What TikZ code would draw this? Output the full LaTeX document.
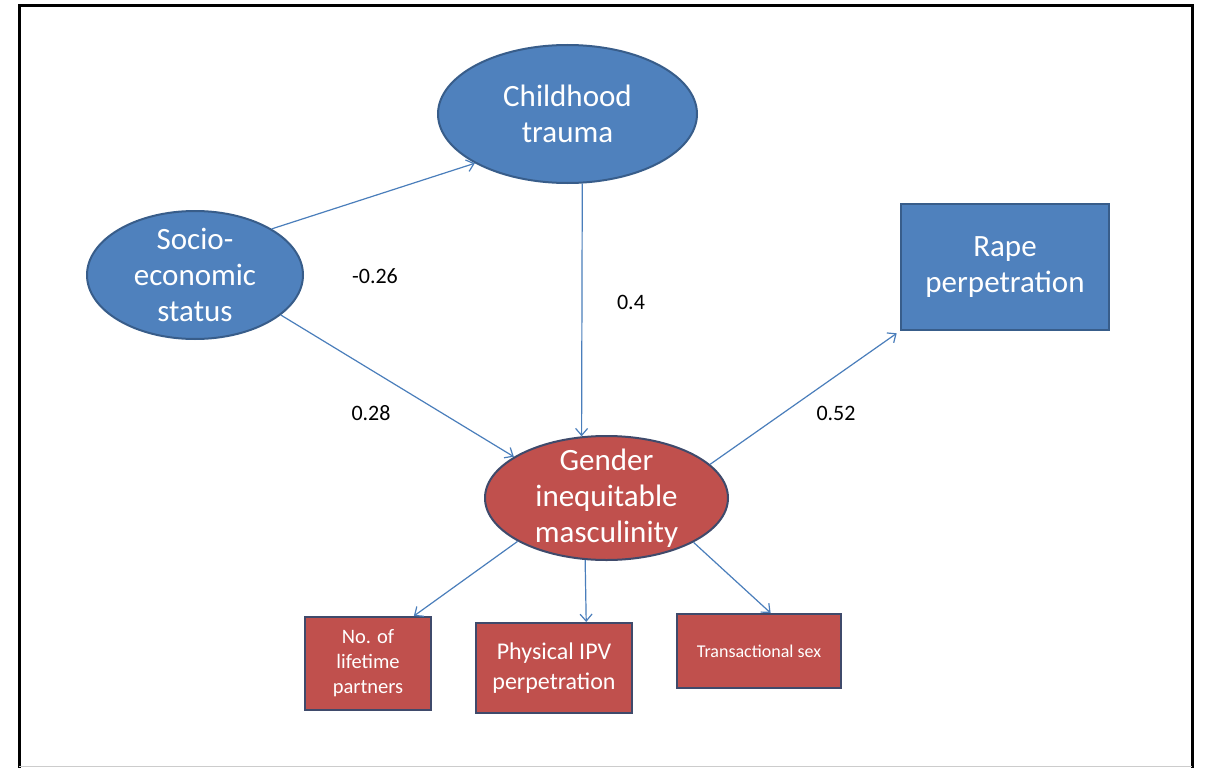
\documentclass[tikz,border=0pt]{standalone}
\usepackage{fontspec}
\setmainfont{Carlito}
\usetikzlibrary{arrows.meta,shapes.geometric}
\definecolor{nodeblue}{HTML}{4F81BD}
\definecolor{blueline}{HTML}{385D8A}
\definecolor{nodered}{HTML}{C0504D}
\definecolor{redline}{HTML}{3F4A6B}
\definecolor{arrowcol}{HTML}{4A7EBB}
\begin{document}
\begin{tikzpicture}[x=1pt,y=-1pt,
  blueell/.style={ellipse, draw=blueline, line width=2pt, fill=nodeblue, inner sep=0pt},
  redell/.style={ellipse, draw=redline, line width=2pt, fill=nodered, inner sep=0pt},
  bluebox/.style={rectangle, draw=blueline, line width=2pt, fill=nodeblue, inner sep=0pt, text=white, align=center, font={\fontsize{31}{36}\selectfont}},
  redbox/.style={rectangle, draw=redline, line width=2pt, fill=nodered, inner sep=0pt, text=white, align=center},
  big/.style={text=white, align=center, font={\fontsize{31}{36}\selectfont}},
  coef/.style={text=black, inner sep=0pt, font={\fontsize{22}{26}\selectfont}},
  link/.style={draw=arrowcol, line width=1.2pt, -{Straight Barb[length=7pt,width=12pt]}}
]
\useasboundingbox (0,0) rectangle (1205,768);
\fill[white] (0,0) rectangle (1205,768);
\draw[line width=3pt] (19,770) -- (19,6) -- (1192,6) -- (1192,770);
\draw[gray!40, line width=1pt] (19,766) -- (1192,766);

\node[blueell, minimum width=259pt, minimum height=138pt, label={[big]center:Childhood\\trauma}] (ct) at (567.5,114) {};
\node[blueell, minimum width=216pt, minimum height=128pt, label={[big]center:Socio-\\economic\\status}] (ses) at (195,275) {};
\node[redell, minimum width=243pt, minimum height=124pt, label={[big]center:Gender\\inequitable\\masculinity}] (gim) at (606.5,498) {};
\node[bluebox, minimum width=208pt, minimum height=126pt] (rape) at (1005,267) {Rape\\perpetration};
\node[redbox, minimum width=126pt, minimum height=93pt, font={\fontsize{20.5}{25}\selectfont}] (no) at (368,663.5) {No. of\\lifetime\\partners};
\node[redbox, minimum width=156pt, minimum height=90pt, font={\fontsize{24}{30}\selectfont}] (ipv) at (554,668) {Physical IPV\\perpetration};
\node[redbox, minimum width=164pt, minimum height=74pt, font={\fontsize{18}{22}\selectfont}] (trans) at (759,651) {Transactional sex};

\node[coef] (c1) at (375,276) {-0.26};
\node[coef] (c2) at (631,302) {0.4};
\node[coef] (c3) at (371,413) {0.28};
\node[coef] (c4) at (836,413) {0.52};

\draw[link] (ses.31) -- (ct.208);
\draw[link] (ses.-25) -- (gim.156);
\draw[link] (ct.-78) -- (gim.112);
\draw[link, shorten >=4pt] (gim.18) -- (rape.south west);
\draw[link] (gim.206) -- (no.46);
\draw[link] (gim.-109) -- (ipv.55);
\draw[link] (gim.-27) -- (trans.73);
\end{tikzpicture}
\end{document}
